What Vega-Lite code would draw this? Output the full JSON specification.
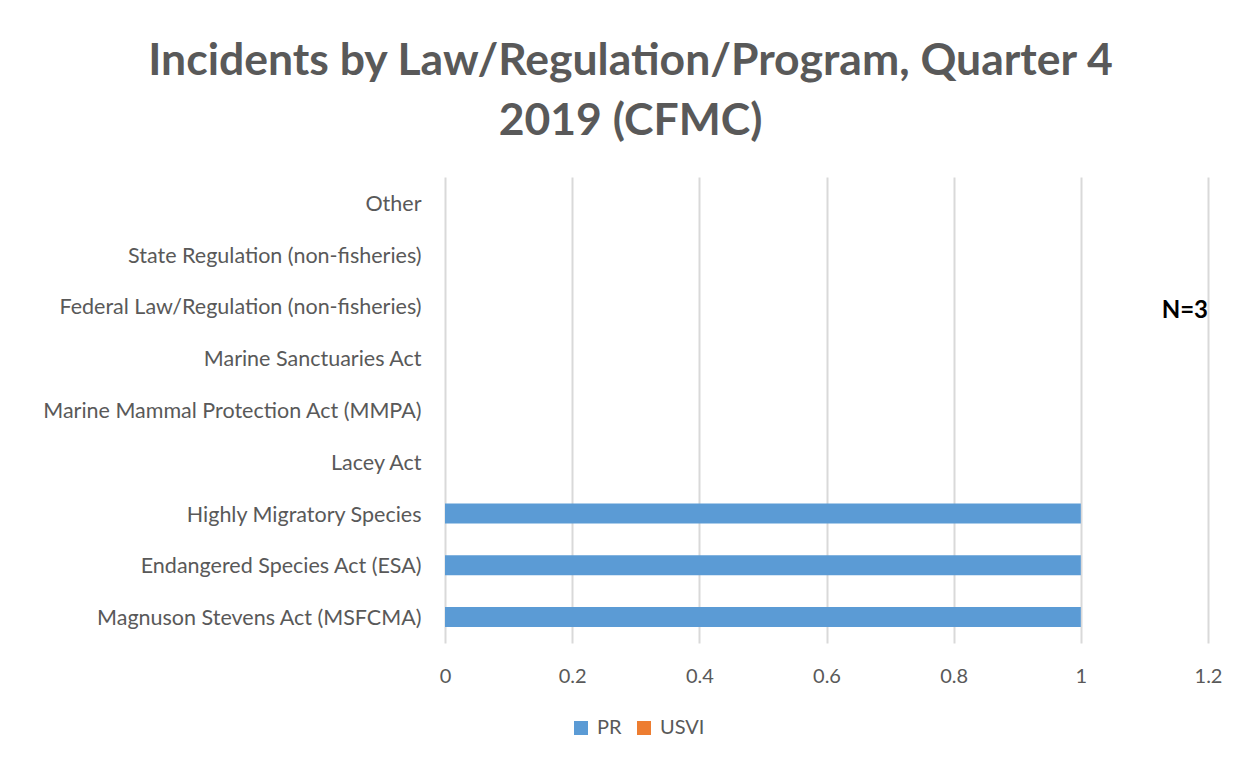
{
  "$schema": "https://vega.github.io/schema/vega-lite/v6.json",
  "width": 763,
  "height": 466,
  "autosize": {"type": "none"},
  "padding": {"left": 445, "top": 177, "right": 42, "bottom": 118},
  "background": "white",
  "config": {
    "view": {"stroke": null},
    "font": "Lato"
  },
  "title": {
    "text": ["Incidents by Law/Regulation/Program, Quarter 4", "2019 (CFMC)"],
    "font": "Lato",
    "fontSize": 44.5,
    "fontWeight": "bold",
    "color": "#595959",
    "anchor": "middle",
    "frame": "group",
    "dx": -196,
    "offset": 33,
    "lineHeight": 60
  },
  "datasets": {
    "bars": [
      {"law": "Magnuson Stevens Act (MSFCMA)", "region": "PR", "incidents": 1},
      {"law": "Endangered Species Act (ESA)", "region": "PR", "incidents": 1},
      {"law": "Highly Migratory Species", "region": "PR", "incidents": 1},
      {"law": "Lacey Act", "region": "PR", "incidents": 0},
      {"law": "Marine Mammal Protection Act (MMPA)", "region": "PR", "incidents": 0},
      {"law": "Marine Sanctuaries Act", "region": "PR", "incidents": 0},
      {"law": "Federal Law/Regulation (non-fisheries)", "region": "PR", "incidents": 0},
      {"law": "State Regulation (non-fisheries)", "region": "PR", "incidents": 0},
      {"law": "Other", "region": "PR", "incidents": 0},
      {"law": "Magnuson Stevens Act (MSFCMA)", "region": "USVI", "incidents": 0},
      {"law": "Endangered Species Act (ESA)", "region": "USVI", "incidents": 0},
      {"law": "Highly Migratory Species", "region": "USVI", "incidents": 0},
      {"law": "Lacey Act", "region": "USVI", "incidents": 0},
      {"law": "Marine Mammal Protection Act (MMPA)", "region": "USVI", "incidents": 0},
      {"law": "Marine Sanctuaries Act", "region": "USVI", "incidents": 0},
      {"law": "Federal Law/Regulation (non-fisheries)", "region": "USVI", "incidents": 0},
      {"law": "State Regulation (non-fisheries)", "region": "USVI", "incidents": 0},
      {"law": "Other", "region": "USVI", "incidents": 0}
    ],
    "note": [
      {"law": "Federal Law/Regulation (non-fisheries)", "x": 1.2, "label": "N=3"}
    ]
  },
  "layer": [
    {
      "data": {"name": "bars"},
      "mark": {"type": "bar", "size": 20},
      "encoding": {
        "y": {
          "field": "law",
          "type": "nominal",
          "sort": ["Other", "State Regulation (non-fisheries)", "Federal Law/Regulation (non-fisheries)", "Marine Sanctuaries Act", "Marine Mammal Protection Act (MMPA)", "Lacey Act", "Highly Migratory Species", "Endangered Species Act (ESA)", "Magnuson Stevens Act (MSFCMA)"],
          "scale": {"paddingInner": 0, "paddingOuter": 0},
          "axis": {
            "title": null,
            "ticks": false,
            "domain": false,
            "grid": false,
            "labelFont": "Lato",
            "labelFontSize": 21.5,
            "labelColor": "#595959",
            "labelPadding": 24,
            "labelOffset": 2,
            "labelLimit": 500
          }
        },
        "x": {
          "field": "incidents",
          "type": "quantitative",
          "stack": null,
          "scale": {"domain": [0, 1.2], "nice": false},
          "axis": {
            "title": null,
            "values": [0, 0.2, 0.4, 0.6, 0.8, 1, 1.2],
            "format": "~g",
            "ticks": false,
            "domain": false,
            "grid": true,
            "gridColor": "#d9d9d9",
            "gridWidth": 2,
            "labelFont": "Lato",
            "labelFontSize": 20,
            "labelColor": "#595959",
            "labelPadding": 23,
            "labelFlush": false
          }
        },
        "color": {
          "field": "region",
          "type": "nominal",
          "scale": {"domain": ["PR", "USVI"], "range": ["#5b9bd5", "#ed7d31"]},
          "legend": {
            "title": null,
            "orient": "none",
            "direction": "horizontal",
            "legendX": 126,
            "legendY": 541,
            "symbolType": "square",
            "symbolSize": 196,
            "symbolStrokeWidth": 0,
            "labelFont": "Lato",
            "labelFontSize": 20,
            "labelColor": "#595959",
            "columnPadding": 12,
            "labelOffset": 6
          }
        }
      }
    },
    {
      "data": {"name": "note"},
      "mark": {"type": "text", "align": "right", "baseline": "middle", "font": "Lato", "fontSize": 24, "fontWeight": "bold", "color": "#000000", "dy": 5},
      "encoding": {
        "y": {
          "field": "law",
          "type": "nominal",
          "sort": ["Other", "State Regulation (non-fisheries)", "Federal Law/Regulation (non-fisheries)", "Marine Sanctuaries Act", "Marine Mammal Protection Act (MMPA)", "Lacey Act", "Highly Migratory Species", "Endangered Species Act (ESA)", "Magnuson Stevens Act (MSFCMA)"]
        },
        "x": {"field": "x", "type": "quantitative"},
        "text": {"field": "label"}
      }
    }
  ]
}
